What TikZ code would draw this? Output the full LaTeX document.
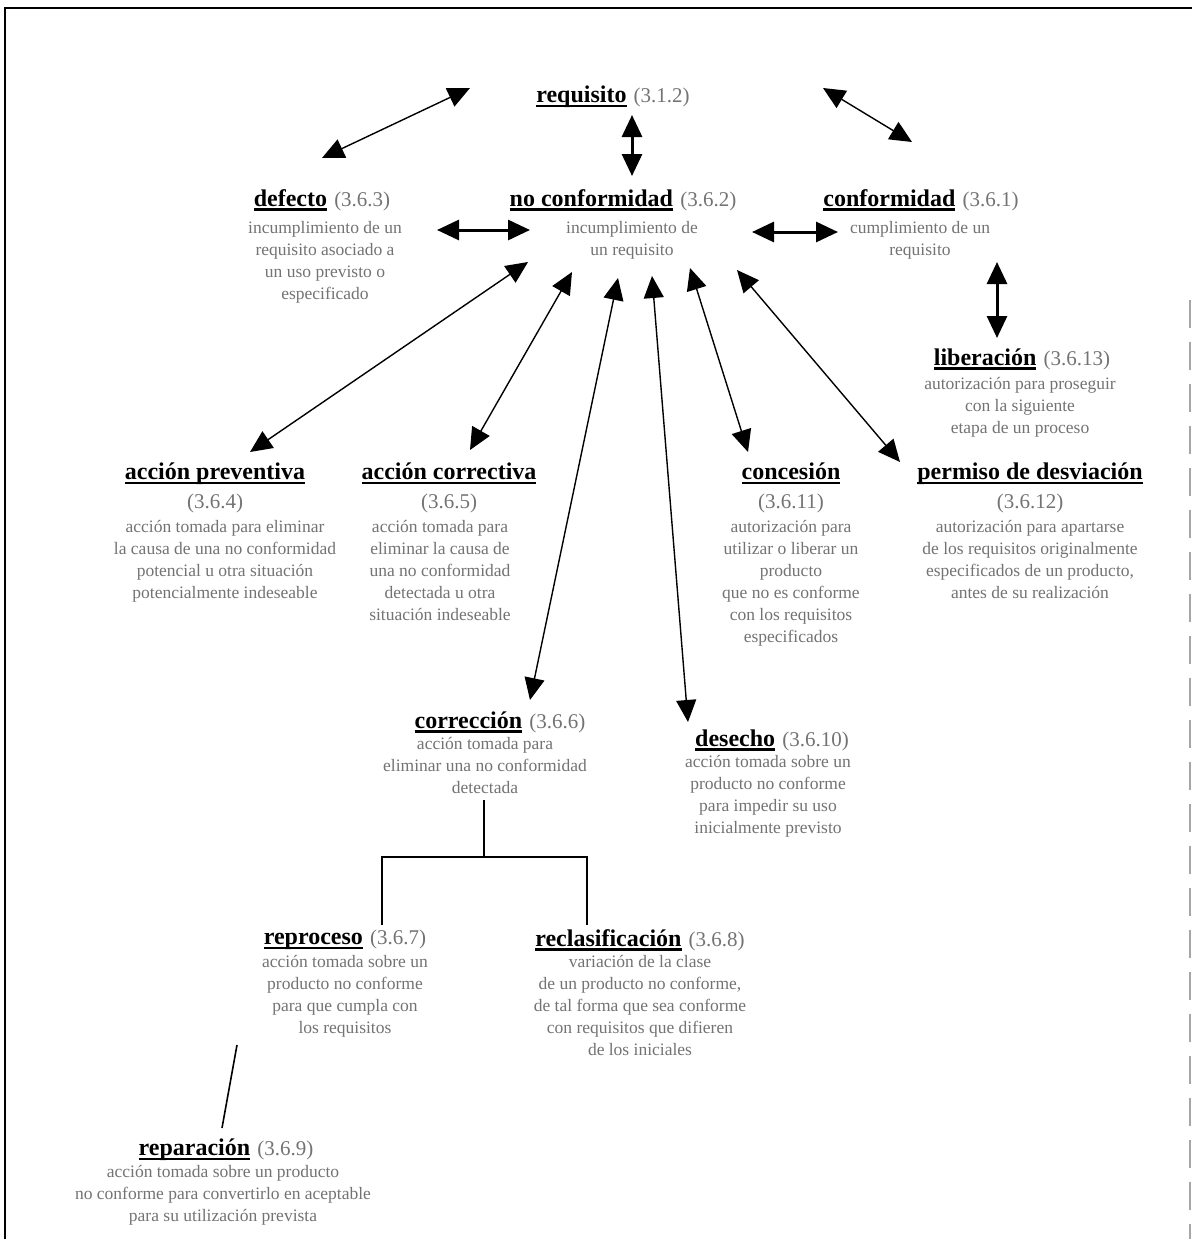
\documentclass[tikz,border=0pt]{standalone}
\usepackage{fontspec}
\setmainfont{Liberation Serif}
\usetikzlibrary{arrows.meta,calc}

\definecolor{descgray}{gray}{0.45}

% bold, heavily underlined concept name
\newcommand\ulword[1]{\setbox0=\hbox{\bfseries #1}\rlap{\smash{\rule[-4.5pt]{\wd0}{2.4pt}}}\box0}
% clause number after a concept name
\newcommand\cnum[1]{{\fontsize{21}{24}\selectfont\color{descgray}#1}}

\tikzset{
  ttl/.style={font=\fontsize{24}{29}\selectfont, inner sep=0pt, align=center},
  desc/.style={font=\fontsize{17.5}{22}\selectfont, text=descgray, inner sep=0pt,
               align=center, anchor=north},
  link/.style={line width=1.4pt,
               {Triangle[length=22pt,width=20pt]}-{Triangle[length=22pt,width=20pt]}},
  shortlink/.style={link, line width=3pt},
  plain/.style={line width=1.8pt},
}

\begin{document}
\begin{tikzpicture}[x=1pt,y=-1pt]
\useasboundingbox (0,0) rectangle (1192,1239);

% frame
\draw[line width=2.2pt] (5,1239) -- (5,8) -- (1192,8);
\draw[black!35, line width=1.5pt, dash pattern=on 28pt off 14pt] (1190,300) -- (1190,1239);

% concept names
\node[ttl] (req)   at (613,97)   {\ulword{requisito}\hspace{0.3em}\cnum{(3.1.2)}};
\node[ttl] (def)   at (322,200)  {\ulword{defecto}\hspace{0.3em}\cnum{(3.6.3)}};
\node[ttl] (nc)    at (623,200)  {\ulword{no conformidad}\hspace{0.3em}\cnum{(3.6.2)}};
\node[ttl] (conf)  at (921,200)  {\ulword{conformidad}\hspace{0.3em}\cnum{(3.6.1)}};
\node[ttl] (lib)   at (1022,359) {\ulword{liberación}\hspace{0.3em}\cnum{(3.6.13)}};
\node[ttl] (prev)  at (215,488)  {\ulword{acción preventiva}\\\cnum{(3.6.4)}};
\node[ttl] (corrv) at (449,488)  {\ulword{acción correctiva}\\\cnum{(3.6.5)}};
\node[ttl] (conc)  at (791,488)  {\ulword{concesión}\\\cnum{(3.6.11)}};
\node[ttl] (perm)  at (1030,488) {\ulword{permiso de desviación}\\\cnum{(3.6.12)}};
\node[ttl] (corr)  at (500,722)  {\ulword{corrección}\hspace{0.3em}\cnum{(3.6.6)}};
\node[ttl] (des)   at (772,740)  {\ulword{desecho}\hspace{0.3em}\cnum{(3.6.10)}};
\node[ttl] (rep)   at (345,940)  {\ulword{reproceso}\hspace{0.3em}\cnum{(3.6.7)}};
\node[ttl] (recl)  at (640,940)  {\ulword{reclasificación}\hspace{0.3em}\cnum{(3.6.8)}};
\node[ttl] (par)   at (226,1150) {\ulword{reparación}\hspace{0.3em}\cnum{(3.6.9)}};

% definitions
\node[desc] (defD)   at (325,221)  {incumplimiento de un\\requisito asociado a\\un uso previsto o\\especificado};
\node[desc] (ncD)    at (632,221)  {incumplimiento de\\un requisito};
\node[desc] (confD)  at (920,221)  {cumplimiento de un\\requisito};
\node[desc] (libD)   at (1020,377) {autorización para proseguir\\con la siguiente\\etapa de un proceso};
\node[desc] (prevD)  at (225,520)  {acción tomada para eliminar\\la causa de una no conformidad\\potencial u otra situación\\potencialmente indeseable};
\node[desc] (corrvD) at (440,520)  {acción tomada para\\eliminar la causa de\\una no conformidad\\detectada u otra\\situación indeseable};
\node[desc] (concD)  at (791,520)  {autorización para\\utilizar o liberar un\\producto\\que no es conforme\\con los requisitos\\especificados};
\node[desc] (permD)  at (1030,520) {autorización para apartarse\\de los requisitos originalmente\\especificados de un producto,\\antes de su realización};
\node[desc] (corrD)  at (485,737)  {acción tomada para\\eliminar una no conformidad\\detectada};
\node[desc] (desD)   at (768,755)  {acción tomada sobre un\\producto no conforme\\para impedir su uso\\inicialmente previsto};
\node[desc] (repD)   at (345,955)  {acción tomada sobre un\\producto no conforme\\para que cumpla con\\los requisitos};
\node[desc] (reclD)  at (640,955)  {variación de la clase\\de un producto no conforme,\\de tal forma que sea conforme\\con requisitos que difieren\\de los iniciales};
\node[desc] (parD)   at (223,1165) {acción tomada sobre un producto\\no conforme para convertirlo en aceptable\\para su utilización prevista};

% relations around requisito
\draw[link] ($(req)+(-143,-9)$) -- ($(def)+(0,-42)$);
\draw[shortlink] ($(req)+(19,18)$) -- ($(nc)+(9,-24)$);
\draw[link] ($(req)+(210,-9)$) -- ($(conf)+(-9,-58)$);

% row of no conformidad
\draw[shortlink] ($(def)+(115,30)$) -- ($(nc)+(-93,30)$);
\draw[shortlink] ($(nc)+(129,32)$) -- ($(conf)+(-83,32)$);
\draw[shortlink] ($(conf)+(76,62)$) -- ($(lib)+(-25,-21)$);

% actions fanning out from no conformidad
\draw[link] ($(nc)+(-95,62)$) -- ($(prev)+(35,-36)$);
\draw[link] ($(nc)+(-51,72)$) -- ($(corrv)+(21,-38)$);
\draw[link] ($(nc)+(-5,78)$)  -- ($(corr)+(30,-22)$);
\draw[link] ($(nc)+(29,76)$)  -- ($(des)+(-84,-18)$);
\draw[link] ($(nc)+(67,68)$)  -- ($(conc)+(-43,-36)$);
\draw[link] ($(nc)+(114,70)$) -- ($(perm)+(-130,-26)$);

% corrección splits into reproceso and reclasificación
\coordinate (fork) at (484,857);
\draw[plain] ($(corr)+(-16,78)$) -- (fork);
\draw[plain] ($(rep)+(37,-15)$) |- (fork) -| ($(recl)+(-53,-15)$);

% reproceso to reparación
\draw[line width=1.6pt] ($(rep)+(-108,105)$) -- ($(par)+(-4,-22)$);
\end{tikzpicture}
\end{document}
